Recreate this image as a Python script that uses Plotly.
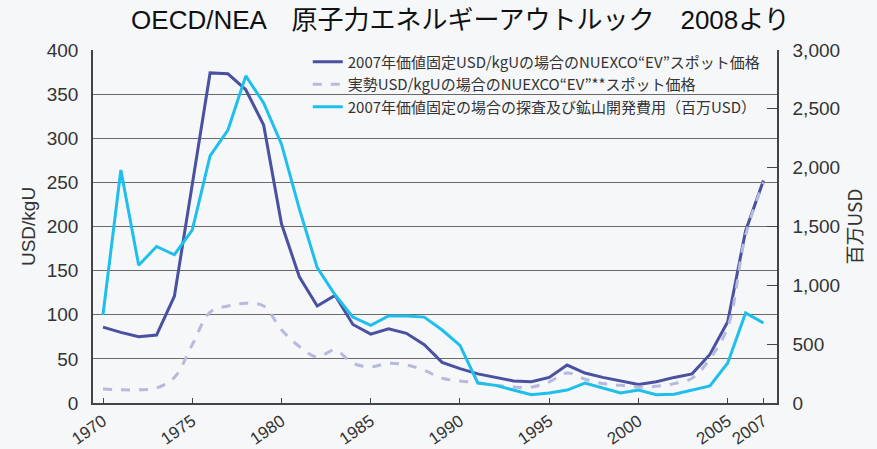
import plotly.graph_objects as go

years = list(range(1970, 2008))

# 2007年価値固定 USD/kgU
price_real = [86, 80, 75, 77, 121, 245, 374, 373, 355, 315,
              203, 143, 110, 122, 89, 78, 84, 79, 66, 46,
              39, 33, 29, 25, 24, 29, 43, 34, 29, 25,
              21, 24, 29, 33, 55, 92, 195, 252]

# 実勢 USD/kgU
price_nominal = [16, 15, 15, 17, 29, 66, 103, 110, 113, 110,
                 83, 64, 52, 60, 45, 41, 45, 43, 37, 28,
                 25, 23, 20, 18, 18, 24, 34, 27, 22, 20,
                 18, 19, 22, 28, 50, 86, 190, 250]

# 探査及び鉱山開発費用（百万USD）
expenditure = [750, 1980, 1170, 1330, 1260, 1470, 2100, 2320, 2780, 2550,
               2200, 1650, 1150, 920, 730, 660, 740, 740, 730, 620,
               490, 170, 150, 110, 70, 85, 110, 170, 130, 85,
               110, 70, 75, 110, 145, 340, 765, 680]

xticks = [1970, 1975, 1980, 1985, 1990, 1995, 2000, 2005, 2007]

names = ['2007年価値固定USD/kgUの場合のNUEXCO“EV”スポット価格',
         '実勢USD/kgUの場合のNUEXCO“EV”**スポット価格',
         '2007年価値固定の場合の探査及び鉱山開発費用（百万USD）']

fig = go.Figure()
fig.add_trace(go.Scatter(x=years, y=price_real, name=names[0], mode='lines',
                         line=dict(color='#4a51a0', width=3)))
fig.add_trace(go.Scatter(x=years, y=price_nominal, name=names[1], mode='lines',
                         line=dict(color='#b6badd', width=3, dash='dash', shape='spline')))
fig.add_trace(go.Scatter(x=years, y=expenditure, name=names[2], mode='lines',
                         line=dict(color='#1fbfeb', width=3), yaxis='y2'))

tick_font = dict(family='Liberation Sans, Arial', size=19, color='#333333')

fig.update_layout(
    width=877, height=449,
    margin=dict(l=93, r=100, t=50, b=46),
    paper_bgcolor='#f6f7f9',
    plot_bgcolor='#f6f7f9',
    font=dict(family='Noto Sans CJK JP', color='#333333'),
    title=dict(text='OECD/NEA　原子力エネルギーアウトルック　2008より',
               x=0.525, xanchor='center', y=0.955, yanchor='middle',
               font=dict(family='Liberation Sans, Noto Sans CJK JP', size=26, color='#111111')),
    showlegend=True,
    legend=dict(x=0.314, y=1.013, xanchor='left', yanchor='top',
                bgcolor='rgba(0,0,0,0)', tracegroupgap=0,
                font=dict(family='Noto Sans CJK JP', size=15, color='#333333')),
    xaxis=dict(range=[1969.44, 2007.76], tickvals=xticks, tickangle=-35,
               showgrid=False, zeroline=False, automargin=False,
               showline=True, linecolor='#444444', linewidth=1.5,
               ticks='inside', ticklen=5, tickcolor='#444444',
               tickfont=dict(family='Liberation Sans, Arial', size=17, color='#333333')),
    yaxis=dict(range=[0, 400], dtick=50, showgrid=True, gridcolor='#6a6a6a', gridwidth=1,
               zeroline=False, showline=True, linecolor='#444444', linewidth=1.5,
               automargin=False, ticks='', ticklabelstandoff=9, tickfont=tick_font,
               title=dict(text='USD/kgU', standoff=6,
                          font=dict(family='Liberation Sans, Arial', size=19, color='#333333'))),
    yaxis2=dict(range=[0, 3000], dtick=500, tickformat=',', overlaying='y', side='right',
                showgrid=False, zeroline=False, showline=True, linecolor='#444444', linewidth=1.5,
                automargin=False, ticks='inside', ticklen=10, tickcolor='#444444',
                ticklabelstandoff=10, tickfont=tick_font,
                title=dict(text='百万USD', standoff=10,
                           font=dict(family='Noto Sans CJK JP', size=19, color='#333333'))),
)

# drop the default page margin so the figure sits at the window's top-left corner
fig.write_html("out.html", config={'displayModeBar': False},
               post_script="document.body.style.margin='0';document.body.style.background='#f6f7f9';")
